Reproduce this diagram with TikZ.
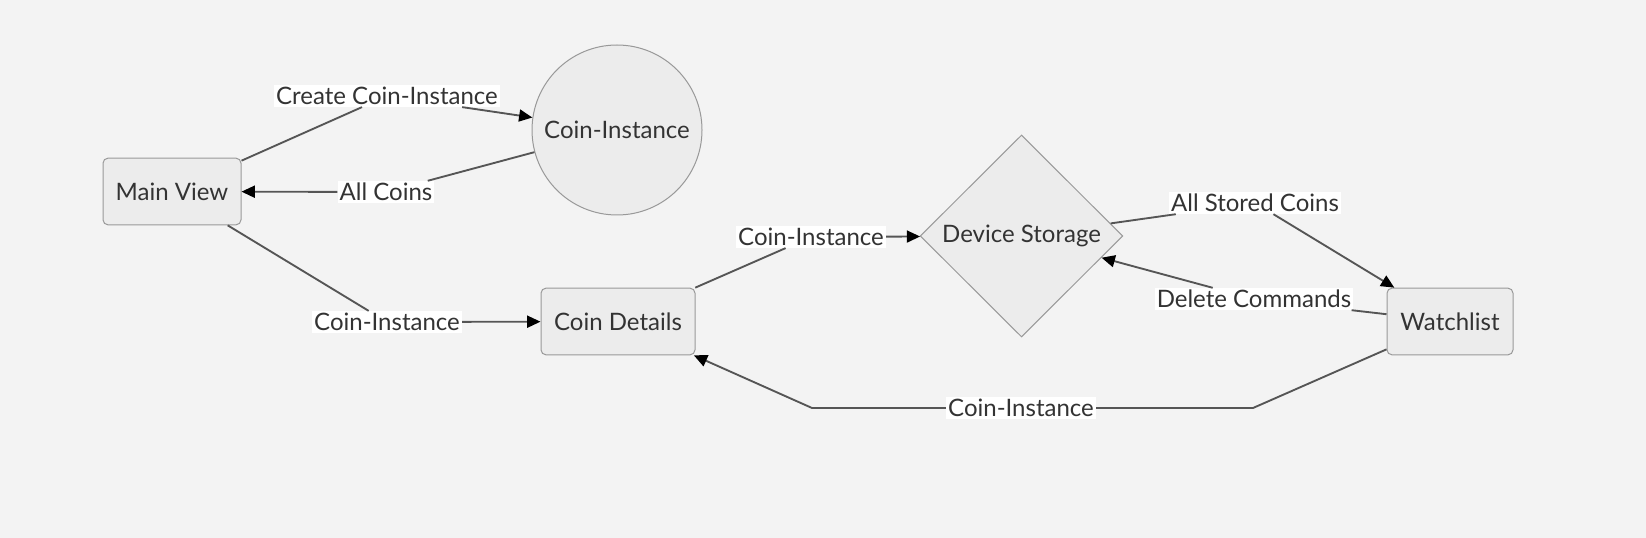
\documentclass[tikz,border=0pt]{standalone}
\usepackage{fontspec}
\setmainfont{Lato}
\usetikzlibrary{arrows.meta,shapes.geometric}
\definecolor{bgcol}{HTML}{F3F3F3}
\definecolor{nodefill}{HTML}{ECECEC}
\definecolor{nodeline}{HTML}{999999}
\definecolor{edgecol}{HTML}{555555}
\definecolor{txt}{HTML}{333333}
\begin{document}
\begin{tikzpicture}[x=0.75pt,y=-0.75pt,font=\fontsize{18}{22}\selectfont,
		box/.style={draw=nodeline,fill=nodefill,line width=0.75pt,rounded corners=3.75pt,minimum height=50pt,text=txt},
		lbl/.style={fill=white,inner sep=1.5pt,text=txt},
		flow/.style={draw=edgecol,line width=1.4pt,-{Triangle[length=10pt,width=9pt,color=black]}}]
				\fill[bgcol] (0,0) rectangle (1646,538);
				\useasboundingbox (0,0) rectangle (1646,538);

				\node[box,minimum width=103.5pt] (main) at (172,191.5) {Main View};
				\node[circle,draw=nodeline,fill=nodefill,line width=0.75pt,minimum size=127.5pt,text=txt] (inst) at (617,130) {Coin-Instance};
				\node[box,minimum width=115.5pt] (details) at (618,321.5) {Coin Details};
				\node[diamond,aspect=1,draw=nodeline,fill=nodefill,line width=0.75pt,minimum width=152pt,minimum height=151.5pt,inner sep=0pt,text=txt] (storage) at (1021.5,236) {Device Storage};
				\node[box,minimum width=94.5pt] (watch) at (1450,321.5) {Watchlist};

				\node[lbl] (create) at (387,96) {Create Coin-Instance};
				\node[lbl] (allcoins) at (386,192) {All Coins};
				\node[lbl] (toDetails) at (387,322) {Coin-Instance};
				\node[lbl] (toStorage) at (811,237) {Coin-Instance};
				\node[lbl] (stored) at (1255,203) {All Stored Coins};
				\node[lbl] (delete) at (1254,299) {Delete Commands};
				\node[lbl] (back) at (1021,408) {Coin-Instance};
				\coordinate (wbend) at (1253,408);
				\coordinate (dbend) at (812,408);

				\path[flow] (main) -- (create) -- (inst);
				\path[flow] (inst) -- (allcoins) -- (main);
				\path[flow] (main) -- (toDetails) -- (details);
				\path[flow] (details) -- (toStorage) -- (storage);
				\path[flow] (storage) -- (stored) -- (watch);
				\path[flow] (watch) -- (delete) -- (storage);
				\path[flow] (watch) -- (wbend) -- (back) -- (dbend) -- (details);
			\end{tikzpicture}
\end{document}
